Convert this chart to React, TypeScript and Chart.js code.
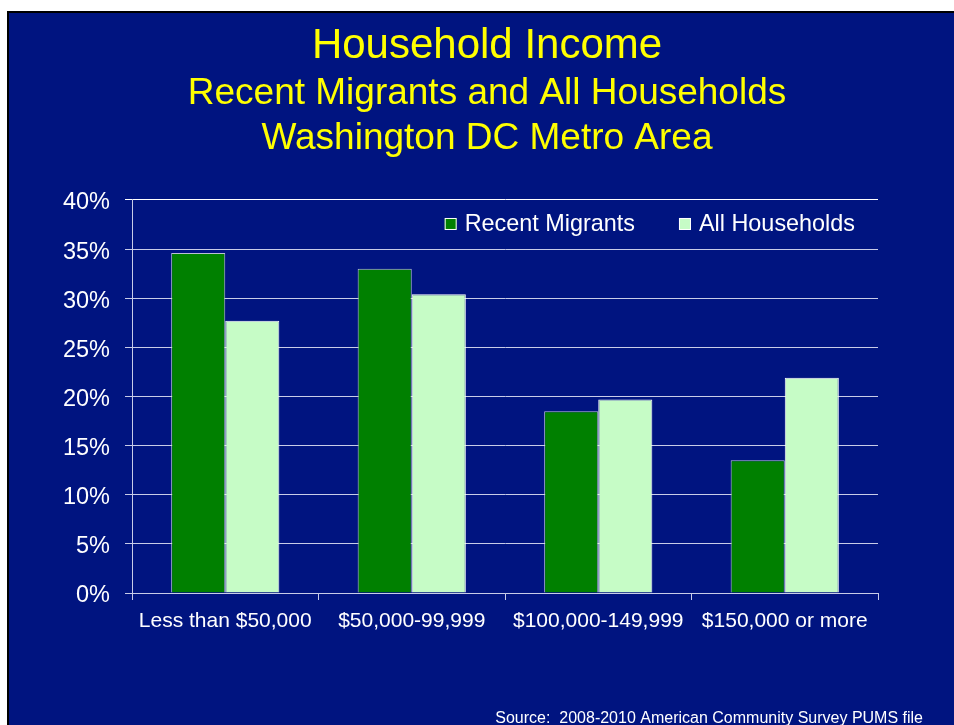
import React, { useEffect, useRef } from "react";
import { Chart, registerables } from "chart.js";

Chart.register(...registerables);

const titleText = "Household Income";
const subtitleLines = ["Recent Migrants and All Households", "Washington DC Metro Area"];
const sourceText = "Source:  2008-2010 American Community Survey PUMS file";
const categories = ["Less than $50,000", "$50,000-99,999", "$100,000-149,999", "$150,000 or more"];
const seriesLabels = ["Recent Migrants", "All Households"];
const recentMigrants = [34.6, 33.0, 18.5, 13.5];
const allHouseholds = [27.7, 30.4, 19.7, 21.9];
const yMin = 0;
const yMax = 40;
const yStep = 5;

const FONT = "'Liberation Sans', Arial, sans-serif";
const BG = "#001480";
const GREEN = "#008000";
const LIGHT = "#c6fcc6";
const GRID = "#c8cce8";

const titleCenterPlugin = {
  id: "titleCenter",
  afterLayout(chart: any) {
    chart.boxes.forEach((b: any) => {
      if (b !== chart.scales.x && b !== chart.scales.y && b.options && "text" in b.options) {
        b.left = 20;
        b.right = 954;
        b.width = 934;
      }
    });
  },
};

const overlayPlugin = {
  id: "overlay",
  afterDraw(chart: any) {
    const ctx = chart.ctx;
    const area = chart.chartArea;
    ctx.save();
    // legend inside plot area, top right
    ctx.font = `23.4px ${FONT}`;
    ctx.textBaseline = "middle";
    ctx.textAlign = "left";
    const box = 12;
    const gapBoxText = 8;
    const gapItems = 44;
    const ds = chart.data.datasets;
    const widths = ds.map((d: any) => ctx.measureText(d.label).width);
    let total = 0;
    widths.forEach((w: number, i: number) => {
      total += box + gapBoxText + w + (i < widths.length - 1 ? gapItems : 0);
    });
    let x = area.right - 23 - total;
    const cy = area.top + 25;
    ds.forEach((d: any, i: number) => {
      ctx.fillStyle = d.backgroundColor;
      ctx.fillRect(x, cy - 7, box, box);
      ctx.strokeStyle = "#ffffff";
      ctx.lineWidth = 1;
      ctx.strokeRect(x + 0.5, cy - 6.5, box - 1, box - 1);
      ctx.fillStyle = "#ffffff";
      ctx.fillText(d.label, x + box + gapBoxText, cy);
      x += box + gapBoxText + widths[i] + gapItems;
    });
    // source note
    ctx.font = `16px ${FONT}`;
    ctx.textAlign = "right";
    ctx.textBaseline = "alphabetic";
    ctx.fillStyle = "#ffffff";
    ctx.fillText(sourceText, 923, 723);
    ctx.restore();
  },
};

export default function App() {
  const canvasRef = useRef<HTMLCanvasElement | null>(null);

  useEffect(() => {
    const canvas = canvasRef.current;
    if (!canvas) return;
    const chart = new Chart(canvas, {
      type: "bar",
      data: {
        labels: categories,
        datasets: [
          {
            label: seriesLabels[0],
            data: recentMigrants,
            backgroundColor: GREEN,
            borderColor: "rgba(220,220,230,0.85)",
            borderWidth: 1,
            categoryPercentage: 0.58,
            barPercentage: 1,
          },
          {
            label: seriesLabels[1],
            data: allHouseholds,
            backgroundColor: LIGHT,
            borderColor: "#ffffff",
            borderWidth: 1,
            categoryPercentage: 0.58,
            barPercentage: 1,
          },
        ],
      },
      options: {
        responsive: false,
        animation: false,
        layout: { padding: { top: 0, left: 0, right: 76, bottom: 0 } },
        plugins: {
          legend: { display: false },
          tooltip: { enabled: false },
          title: {
            display: true,
            text: titleText,
            color: "#ffff00",
            font: { family: FONT, size: 42, weight: "normal", lineHeight: 1.2 },
            padding: { top: 21, bottom: 0 },
          },
          subtitle: {
            display: true,
            text: subtitleLines,
            color: "#ffff00",
            font: { family: FONT, size: 37, weight: "normal", lineHeight: 1.216 },
            padding: { top: 0, bottom: 38.6 },
          },
        },
        scales: {
          x: {
            offset: true,
            grid: {
              display: true,
              drawOnChartArea: false,
              offset: true,
              color: GRID,
              tickLength: 7,
              tickColor: GRID,
            },
            border: { display: true, color: GRID, width: 1 },
            ticks: {
              color: "#ffffff",
              font: { family: FONT, size: 21 },
              padding: 9,
              maxRotation: 0,
              autoSkip: false,
            },
            afterFit(scale: any) {
              scale.height = 132;
            },
          },
          y: {
            min: yMin,
            max: yMax,
            grid: {
              color: (c: any) => (c.tick && c.tick.value === yMax ? "#ffffff" : GRID),
              lineWidth: 1,
              tickLength: 7,
            },
            border: { display: true, color: GRID, width: 1 },
            ticks: {
              stepSize: yStep,
              color: "#ffffff",
              font: { family: FONT, size: 23.5 },
              padding: 15,
              labelOffset: 3,
              callback: (v: any) => `${v}%`,
            },
            afterFit(scale: any) {
              scale.width = 132;
            },
          },
        },
      },
      plugins: [titleCenterPlugin, overlayPlugin],
    });
    return () => chart.destroy();
  }, []);

  return (
    <div style={{ position: "absolute", left: 0, top: 0, width: 954, height: 725, overflow: "hidden", background: "#ffffff" }}>
      <div
        style={{
          position: "absolute",
          left: 7,
          top: 11,
          width: 947,
          height: 714,
          background: BG,
          borderLeft: "2px solid #000000",
          borderTop: "2px solid #000000",
          boxSizing: "border-box",
        }}
      />
      <canvas
        ref={canvasRef}
        width={954}
        height={725}
        style={{ position: "absolute", left: 0, top: 0, width: 954, height: 725 }}
      />
    </div>
  );
}
